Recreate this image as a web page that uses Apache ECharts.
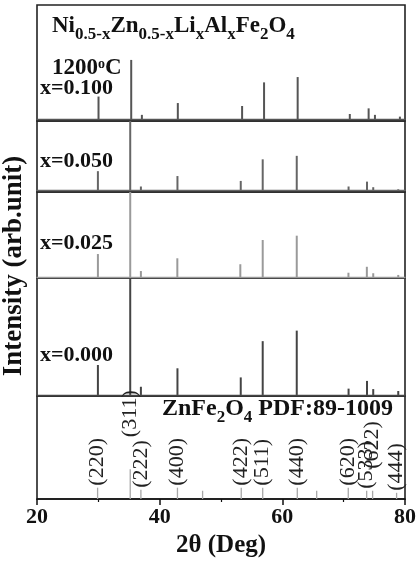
<!DOCTYPE html>
<html>
<head>
<meta charset="utf-8">
<script src="https://cdn.jsdelivr.net/npm/echarts@6/dist/echarts.min.js"></script>
<style>
html,body{margin:0;padding:0;background:#fff;}
#c{width:420px;height:569px;}
</style>
</head>
<body>
<div id="c"></div>
<script>
// ---- data ----
const peakHKL = ['(220)','(311)','(222)','(400)','(422)','(511)','(440)','(620)','(533)','(622)','(444)'];
const twoTheta_x0100 = [30.03, 35.36, 37.10, 42.96, 53.44, 57.02, 62.50, 71.00, 74.07, 75.10, 79.17];
const twoTheta_x0050 = [29.93, 35.20, 36.94, 42.90, 53.22, 56.80, 62.35, 70.80, 73.80, 74.82, 78.90];
const twoTheta_x0025 = [29.93, 35.20, 36.94, 42.88, 53.15, 56.80, 62.35, 70.78, 73.78, 74.82, 78.90];
const twoTheta_x0000 = [29.93, 35.20, 36.94, 42.90, 53.22, 56.80, 62.35, 70.80, 73.80, 74.82, 78.90];
const intensity_x0100 = [38, 100, 7, 27, 22, 62, 71, 8.5, 18, 7, 4];
const intensity_x0050 = [28, 100, 6, 21, 14, 45, 50, 6, 13, 5, 2];
const intensity_x0025 = [27, 100, 7, 22, 15, 43.5, 48.6, 5, 12, 4.4, 2.4];
const intensity_x0000 = [25.6, 100, 7, 22.8, 15, 46, 55, 5.4, 12, 5, 3.4];
const sampleLabels = ['x=0.100', 'x=0.050', 'x=0.025', 'x=0.000'];

const pdfHKL = ['(220)','(311)','(222)','(400)','','(422)','(511)','(440)','','(620)','(533)','(622)','(444)'];
const pdfTwoTheta = [29.88, 35.20, 36.94, 42.90, 47.00, 53.30, 56.80, 62.44, 65.60, 70.75, 73.75, 74.72, 78.63];
const pdfIntensity = [11, 29, 9, 11, 8, 11, 11, 11, 8, 11, 8, 8, 6];

const xTicks = [20, 40, 60, 80];

// ---- layout / style ----
const FONT = '"Liberation Serif", "Times New Roman", serif';
const panelEdges = [5, 121, 192, 278, 396, 499];
const yRanges = [[-3.4, 193], [-1.9, 100], [-1.2, 100], [-0.9, 100], [0, 100]];
const traceColors = ['#555555', '#666666', '#9a9a9a', '#444444'];
const labelLift = {'(311)': 30, '(622)': 20};

const patterns = [
  [twoTheta_x0100, intensity_x0100],
  [twoTheta_x0050, intensity_x0050],
  [twoTheta_x0025, intensity_x0025],
  [twoTheta_x0000, intensity_x0000]
];

const grids = [], xAxes = [], yAxes = [], series = [];
for (let i = 0; i < 5; i++) {
  grids.push({left: 37, right: 15, top: panelEdges[i], height: panelEdges[i + 1] - panelEdges[i],
    show: true, borderColor: '#222', borderWidth: 1.6, backgroundColor: 'transparent'});
  yAxes.push({type: 'value', gridIndex: i, min: yRanges[i][0], max: yRanges[i][1], show: false});
  if (i < 4) {
    xAxes.push({type: 'value', gridIndex: i, min: xTicks[0], max: xTicks[xTicks.length - 1], interval: xTicks[1] - xTicks[0],
      axisLabel: {show: false}, axisTick: {show: false}, splitLine: {show: false},
      axisLine: {show: true, onZero: true, lineStyle: {color: traceColors[i], width: 1.3}}});
    series.push({
      type: 'bar', xAxisIndex: i, yAxisIndex: i, barWidth: 2, silent: true,
      itemStyle: {color: traceColors[i]},
      data: patterns[i][0].map((t, k) => [t, patterns[i][1][k]])
    });
  } else {
    xAxes.push({type: 'value', gridIndex: i, min: xTicks[0], max: xTicks[xTicks.length - 1], interval: xTicks[1] - xTicks[0],
      splitLine: {show: false},
      axisLine: {show: true, onZero: false, lineStyle: {color: '#111', width: 1.6}},
      axisTick: {show: true, length: 6, lineStyle: {color: '#111', width: 1.5}},
      minorTick: {show: true, splitNumber: 2, length: 3, lineStyle: {color: '#111', width: 1.2}},
      axisLabel: {fontFamily: FONT, fontWeight: 'bold', fontSize: 22, color: '#111', margin: 7},
      name: '2θ (Deg)', nameLocation: 'middle', nameGap: 34,
      nameTextStyle: {fontFamily: FONT, fontWeight: 'bold', fontSize: 25, color: '#111', verticalAlign: 'top'}
    });
    series.push({
      type: 'bar', xAxisIndex: i, yAxisIndex: i, barWidth: 1.3, silent: true,
      itemStyle: {color: '#a8a8a8'},
      label: {show: true, position: 'top', rotate: 90, align: 'left', verticalAlign: 'middle', distance: 2,
        fontFamily: FONT, fontSize: 22, color: '#222',
        formatter: p => pdfHKL[p.dataIndex]},
      data: pdfTwoTheta.map((t, k) => ({
        value: [t, pdfIntensity[k]],
        label: {distance: 2 + (labelLift[pdfHKL[k]] || 0)}
      }))
    });
  }
}

const mainRich = {
  m: {fontFamily: FONT, fontWeight: 'bold', fontSize: 23, lineHeight: 24, verticalAlign: 'top', color: '#111'},
  s: {fontFamily: FONT, fontWeight: 'bold', fontSize: 17, lineHeight: 17, verticalAlign: 'top', padding: [11, 0, 0, 0], color: '#111'},
  p: {fontFamily: FONT, fontWeight: 'bold', fontSize: 14, lineHeight: 14, verticalAlign: 'top', padding: [0, 0, 0, 0], color: '#111'}
};
const pdfRich = {
  m: {fontFamily: FONT, fontWeight: 'bold', fontSize: 24, lineHeight: 25, verticalAlign: 'top', color: '#111'},
  s: {fontFamily: FONT, fontWeight: 'bold', fontSize: 17, lineHeight: 17, verticalAlign: 'top', padding: [12, 0, 0, 0], color: '#111'}
};
const plainStyle = {fontFamily: FONT, fontWeight: 'bold', fontSize: 22, color: '#111'};
const sampleTops = [77, 150, 232, 344];

const titles = [
  {text: '{m|Ni}{s|0.5-x}{m|Zn}{s|0.5-x}{m|Li}{s|x}{m|Al}{s|x}{m|Fe}{s|2}{m|O}{s|4}', left: 52, top: 15, padding: 0,
    textStyle: {rich: mainRich}},
  {text: '{m|1200}{p|o}{m|C}', left: 52, top: 57, padding: 0, textStyle: {rich: mainRich}},
  {text: '{m|ZnFe}{s|2}{m|O}{s|4}{m| PDF:89-1009}', left: 162, top: 397, padding: 0, textStyle: {rich: pdfRich}}
].concat(sampleLabels.map((s, i) => ({text: s, left: 40, top: sampleTops[i], padding: 0, textStyle: plainStyle})));

const chart = echarts.init(document.getElementById('c'), null, {renderer: 'canvas'});
chart.setOption({
  animation: false,
  backgroundColor: '#fff',
  title: titles,
  grid: grids,
  xAxis: xAxes,
  yAxis: yAxes,
  series: series,
  graphic: [{
    type: 'text', x: 14, y: 266, rotation: Math.PI / 2,
    style: {text: 'Intensity (arb.unit)', font: 'bold 27px ' + FONT, fill: '#111', align: 'center', verticalAlign: 'middle'}
  }]
});
</script>
</body>
</html>
